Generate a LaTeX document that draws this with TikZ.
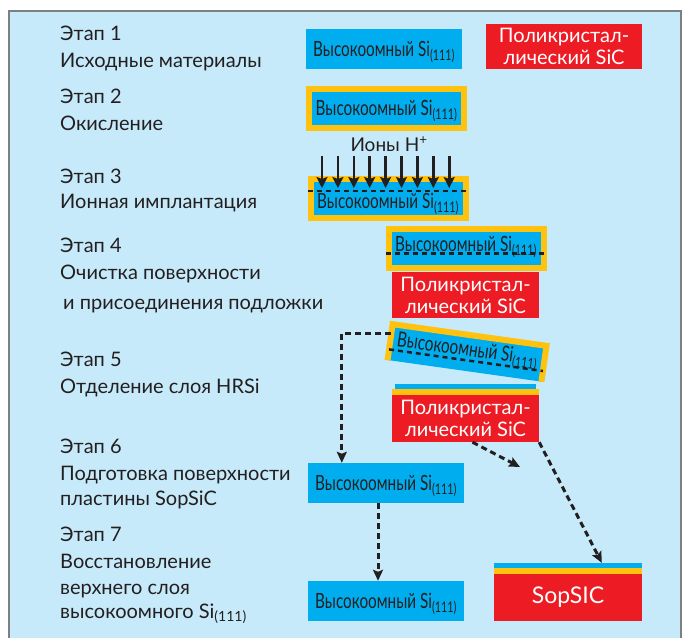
\documentclass[tikz,border=0pt]{standalone}
\usepackage{fontspec}
\setmainfont{Lato}
\usetikzlibrary{arrows.meta,positioning,calc}
\definecolor{panelblue}{RGB}{199,234,250}
\definecolor{siblue}{RGB}{0,174,239}
\definecolor{sicred}{RGB}{237,28,36}
\definecolor{oxorange}{RGB}{255,194,14}
\definecolor{ink}{RGB}{35,31,32}
\definecolor{framegray}{RGB}{125,128,130}
\newcommand{\hrsitext}[1][0pt]{\raisebox{\dimexpr-7pt+#1\relax}[0pt][0pt]{\scalebox{0.73}[1]{Высокоомный Si\textsubscript{(111)}}}}

\begin{document}
\begin{tikzpicture}[
  x=1pt, y=-1pt,
  stagelabel/.style={anchor=base west, inner sep=0, align=left, text=ink,
    font=\fontsize{20}{27}\selectfont},
  hrsi/.style={fill=siblue, minimum width=156pt, minimum height=40pt, inner sep=0,
    text=ink, font=\fontsize{21}{24}\selectfont},
  oxwafer/.style={hrsi, draw=oxorange, line width=6pt, minimum width=155pt, minimum height=39pt},
  sicbox/.style={fill=sicred, text=white, inner sep=0, align=center,
    font=\fontsize{20}{22}\selectfont},
  cutline/.style={ink, line width=2.5pt, dash pattern=on 5pt off 4pt},
  ionarrow/.style={-{Stealth[length=11pt,width=11pt,inset=2pt]}, ink, line width=2.6pt},
  flow/.style={-{Stealth[length=11pt,width=10pt,inset=2pt]}, ink, line width=3pt,
    dash pattern=on 6pt off 4pt}
]
\useasboundingbox (0,0) rectangle (685,638);

% Panel
\fill[panelblue] (9,11) rectangle (681,638);
\draw[framegray, line width=1.2pt] (9,638) -- (9,11) -- (681,11) -- (681,638);

% Stage captions (anchored at the last line)
\node[stagelabel] (st1) at (60,67) {Этап 1\\Исходные материалы};
\node[stagelabel] (st2) at (60,130) {Этап 2\\Окисление};
\node[stagelabel] (st3) at (60,208) {Этап 3\\[-2pt]Ионная имплантация};
\node[stagelabel] (st4) at (60,309) {Этап 4\\Очистка поверхности\\[3pt]\hspace{3pt}и присоединения подложки};
\node[stagelabel] (st5) at (60,393) {Этап 5\\Отделение слоя HRSi};
\node[stagelabel] (st6) at (60,505) {Этап 6\\Подготовка поверхности\\[-2pt]пластины SopSiC};
\node[stagelabel] (st7) at (60,618) {Этап 7\\Восстановление\\[-1pt]верхнего слоя\\[-3pt]высокоомного Si\textsubscript{(111)}};

% Stage 1: starting materials
\node[hrsi] (hr1) at (384,49) {\hrsitext};
\node[sicbox, minimum width=156pt, minimum height=45pt] (sic1) at (564,46.5) {Поликристал-\\лический SiC};

% Stage 2: oxidation
\node[oxwafer] (ox2) at (386.5,108.5) {\hrsitext};

% Stage 3: ion implantation
\node[oxwafer] (ox3) at (388,198.5) {\hrsitext[-2.5pt]};
\node[anchor=base, inner sep=0, text=ink, font=\fontsize{19}{22}\selectfont] (ions) at (389,151) {Ионы H\textsuperscript{+}};
\foreach \i in {0,...,8}
  \draw[ionarrow] ($(ox3.north west)+(14.5+15.9*\i,-20)$) -- ($(ox3.north west)+(14.5+15.9*\i,12)$);
\draw[cutline] ($(ox3.south west)!0.67!(ox3.north west)$) -- ($(ox3.south east)!0.67!(ox3.north east)$);

% Stage 4: bonding
\node[oxwafer] (ox4) at (466,248.5) {\hrsitext[4pt]};
\draw[cutline] ($(ox4.south west)!0.385!(ox4.north west)$) -- ($(ox4.south east)!0.385!(ox4.north east)$);
\node[sicbox, minimum width=147pt, minimum height=46pt] (sic4) at (465.5,295) {Поликристал-\\лический SiC};

% Stage 5: splitting
\node[hrsi, minimum width=155pt, minimum height=36pt, rotate=-8] (sep) at (467,353) {\hrsitext[4pt]};
\draw[oxorange, line width=6pt] (sep.south west) -- (sep.north west) -- (sep.north east) -- (sep.south east);
\draw[cutline] ($(sep.south west)!0.3!(sep.north west)$) -- ($(sep.south east)!0.3!(sep.north east)$);
\node[sicbox, minimum width=147pt, minimum height=47pt] (sicB) at (465.5,418.5) {Поликристал-\\лический SiC};
\fill[oxorange] ($(sicB.north west)+(0,-6)$) rectangle (sicB.north east);
\fill[siblue] ($(sicB.north west)+(3,-11)$) rectangle ($(sicB.north east)+(-3,-6)$);

% Stage 6 and 7
\node[hrsi] (hr6) at (386,483) {\hrsitext};
\node[hrsi] (hr7) at (386,601) {\hrsitext};

% Final SopSiC wafer
\node[sicbox, minimum width=148pt, minimum height=47pt, font=\fontsize{23}{26}\selectfont] (sop) at (568,597.5) {SopSIC};
\fill[oxorange] ($(sop.north west)+(0,-6)$) rectangle (sop.north east);
\fill[siblue] ($(sop.north west)+(0,-11)$) rectangle ($(sop.north east)+(0,-6)$);

% Flow arrows
\coordinate (drift) at (520,467);
\draw[flow] ($(sep.west)!0.5!(sep.north west)$) -| ($(hr6.north west)+(34,0)$);
\draw[flow] ($(hr6.south)+(-8,0)$) -- ($(hr7.north)+(-8,0)$);
\draw[flow] ($(sicB.south)+(7,0)$) -- (drift);
\draw[flow] (sicB.south east) -- ($(sop.north west)+(108,-11)$);

\end{tikzpicture}
\end{document}
